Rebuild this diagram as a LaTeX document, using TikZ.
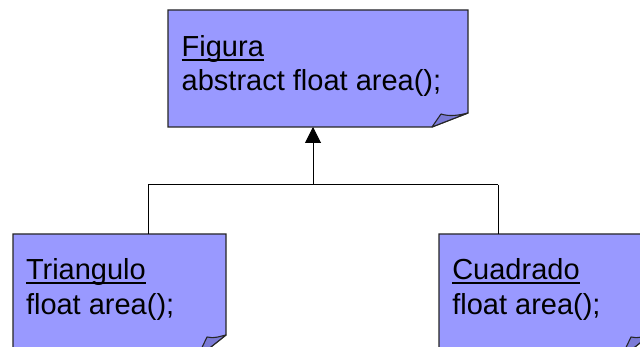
\documentclass[tikz,border=0pt]{standalone}
\usepackage{fontspec}
\setmainfont{Liberation Sans}
\usetikzlibrary{calc,arrows.meta}
\definecolor{boxblue}{HTML}{9999FF}
\definecolor{flapblue}{HTML}{7A7AD6}
\definecolor{edgegray}{HTML}{262626}
\tikzset{
  boxarea/.style={inner sep=0pt, outer sep=0pt},
  boxline/.style={draw=edgegray, line width=1.2pt, fill=boxblue, line join=miter},
  flapline/.style={draw=edgegray, line width=1.1pt, fill=flapblue, line join=round},
  label/.style={inner sep=0pt, outer sep=0pt, anchor=base west, font=\fontsize{29}{35}\selectfont},
  uline/.style={line width=2pt, black},
  conn/.style={draw=black, line width=1pt},
}
\begin{document}
\begin{tikzpicture}[x=1pt,y=-1pt]
\useasboundingbox (0,0) rectangle (640,347);
\clip (0,0) rectangle (640,347);
\fill[white] (0,0) rectangle (640,347);
% box areas
\node[boxarea, minimum width=300pt, minimum height=117pt] (fig) at (318,68.5) {};
\node[boxarea, minimum width=213pt, minimum height=124pt] (tri) at (119.5,296) {};
\node[boxarea, minimum width=211pt, minimum height=124pt] (cua) at (544.5,296) {};
% top box outline with folded corner
\path[boxline] (fig.north west) -- (fig.north east) -- ([yshift=14pt]fig.south east)
  -- ([xshift=-36pt]fig.south east) -- (fig.south west) -- cycle;
\path[flapline] ([xshift=-36pt]fig.south east) -- ([xshift=-27pt,yshift=13pt]fig.south east)
  .. controls ([xshift=-18pt,yshift=10pt]fig.south east) and ([xshift=-8pt,yshift=12pt]fig.south east)
  .. ([yshift=14pt]fig.south east) -- cycle;
% bottom boxes
\foreach \b in {tri,cua}{
  \path[boxline] (\b.north west) -- (\b.north east) -- ([yshift=23pt]\b.south east)
    -- ([xshift=-29pt]\b.south east) -- (\b.south west) -- cycle;
  \path[flapline] ([xshift=-29pt]\b.south east) -- ([xshift=-19pt,yshift=21pt]\b.south east)
    .. controls ([xshift=-12pt,yshift=19pt]\b.south east) and ([xshift=-5pt,yshift=22pt]\b.south east)
    .. ([yshift=23pt]\b.south east) -- cycle;
}
% texts
\node[label] (figt) at (181.7,56.7) {Figura};
\node[label] (figm) at (181.7,90.7) {abstract float area();};
\node[label] (trit) at (26,280) {Triangulo};
\node[label] (trim) at (26,315) {float area();};
\node[label] (cuat) at (452.3,280) {Cuadrado};
\node[label] (cuam) at (452.3,315) {float area();};
\foreach \t in {figt,trit,cuat}{
  \draw[uline] ([yshift=-3.2pt]\t.base west) -- ([yshift=-3.2pt]\t.base east);
}
% connectors
\coordinate (j) at (313,185);
\coordinate (jl) at (148,185);
\coordinate (jr) at (498,185);
\draw[conn] (jl) -- (jr);
\draw[conn] (jl) -- (jl |- tri.north);
\draw[conn] (jr) -- (jr |- cua.north);
\draw[conn, -{Triangle[length=16pt,width=16pt]}] (j) -- (j |- fig.south);
\end{tikzpicture}
\end{document}
